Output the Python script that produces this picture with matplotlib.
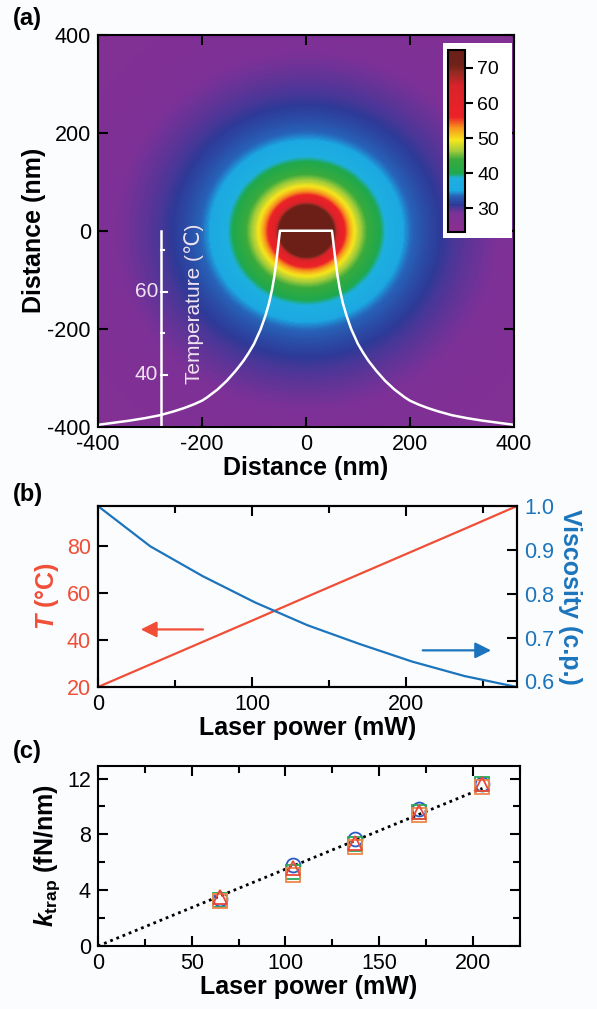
import numpy as np
import matplotlib
matplotlib.use("Agg")
import matplotlib.pyplot as plt
from matplotlib.colors import LinearSegmentedColormap
from matplotlib.patches import Rectangle
from matplotlib.ticker import MultipleLocator

plt.rcParams["font.family"] = ["Liberation Sans", "DejaVu Sans"]
plt.rcParams["axes.unicode_minus"] = False
plt.rcParams["mathtext.fontset"] = "custom"
plt.rcParams["mathtext.rm"] = "Liberation Sans:bold"
plt.rcParams["mathtext.it"] = "Liberation Sans:bold:italic"
plt.rcParams["mathtext.bf"] = "Liberation Sans:bold"

# (a) radial temperature profile (nm, degC)
radius = [0, 50, 52, 55, 58, 61, 65, 71, 78, 87, 100, 110, 120, 135, 152, 170,
          190, 200, 216, 235, 255, 281, 310, 340, 370, 400, 570]
temp_r = [74.6, 74.6, 72.5, 69.3, 66.2, 63.5, 60.6, 57.2, 54.2, 51.0, 47.4, 45.3,
          43.4, 41.0, 38.6, 36.5, 34.6, 33.8, 32.9, 32.0, 31.2, 30.3, 29.6, 29.0,
          28.5, 28.0, 26.3]
scale_ticks = [40, 50, 60, 70]
scale_labels = [40, 60]

# (b) temperature and viscosity vs laser power
power_b = [0, 34, 68, 102, 136, 170, 204, 238, 272]
temp_b = [20, 29.6, 39.2, 48.8, 58.5, 68.1, 77.7, 87.3, 97]
visc_b = [1.0, 0.908, 0.84, 0.78, 0.728, 0.685, 0.645, 0.612, 0.587]

# (c) trap stiffness vs laser power
power_c = [65, 104, 137, 171, 205]
k_circle = [3.4, 5.8, 7.7, 9.8, 11.6]
k_square = [3.3, 5.3, 7.3, 9.6, 11.6]
k_square2 = [3.2, 5.1, 7.1, 9.4, 11.4]
k_tri = [3.5, 5.6, 7.4, 9.6, 11.6]
fit_x = [0, 205]
fit_y = [0, 11.3]

bg = "#fbfcfe"
red = "#f04e37"
blue = "#1c75bc"
LS = 15.5   # tick label size
AL = 18     # axis label size

cmap = LinearSegmentedColormap.from_list("temp", [
    (0.00, "#8b2f8f"), (0.10, "#7d3197"), (0.149, "#2e3a98"), (0.197, "#2763b8"),
    (0.225, "#1ca9e2"), (0.293, "#1eb0e0"), (0.322, "#1fa84d"), (0.399, "#3aab3c"),
    (0.447, "#a7cd3a"), (0.505, "#f6e61c"), (0.572, "#f7941d"), (0.630, "#ec2227"),
    (0.803, "#d9232a"), (0.880, "#8f2a22"), (0.919, "#6e2218"), (1.00, "#6b1f17")])

fig = plt.figure(figsize=(5.97, 10.09), dpi=100, facecolor=bg)

def style(ax):
    ax.tick_params(which="both", direction="in", top=True, right=True, width=1.5,
                   labelsize=LS, pad=5)
    ax.tick_params(which="major", length=7)
    ax.tick_params(which="minor", length=5)
    for s in ax.spines.values():
        s.set_linewidth(1.5)

# ---- (a)
ax = fig.add_axes([0.164, 0.577, 0.697, 0.3885])
g = np.linspace(-400, 400, 401)
xx, yy = np.meshgrid(g, g)
field = np.interp(np.hypot(xx, yy), radius, temp_r)
im = ax.imshow(field, extent=[-400, 400, -400, 400], origin="lower", cmap=cmap,
               vmin=23.3, vmax=75.2, interpolation="bilinear", aspect="auto")
ax.set_xlim(-400, 400)
ax.set_ylim(-400, 400)
ax.set_xticks([-400, -200, 0, 200, 400])
ax.set_yticks([-400, -200, 0, 200, 400])
style(ax)
ax.set_xlabel("Distance (nm)", fontsize=AL, fontweight="bold", labelpad=1)
ax.set_ylabel("Distance (nm)", fontsize=AL, fontweight="bold", labelpad=1)

# white temperature curve on its own inner scale
def t2y(t):
    return -124 + (np.asarray(t) - 60) * 8.5

r = np.array(radius[:-1])
tr = np.array(temp_r[:-1])
cx = np.concatenate([-r[::-1], r])
cy = t2y(np.concatenate([tr[::-1], tr]))
ax.plot(cx, cy, color="white", lw=1.8, solid_joinstyle="round")
sx = -279
ax.plot([sx, sx], [0, -400], color="white", lw=1.8)
for t in scale_ticks:
    ln = 12 if t in scale_labels else 7
    ax.plot([sx, sx + ln], [t2y(t), t2y(t)], color="white", lw=1.5)
for t in scale_labels:
    ax.text(sx - 5, t2y(t), str(t), color="#efe2f0", fontsize=15, ha="right", va="center")
ax.text(-216, -150, "Temperature (℃)", color="#efe2f0", fontsize=15, rotation=90,
        ha="center", va="center")

ax.add_patch(Rectangle((0.829, 0.482), 0.166, 0.498, transform=ax.transAxes,
                       facecolor="white", edgecolor="none", zorder=3))
cax = ax.inset_axes([0.841, 0.497, 0.041, 0.465])
cb = fig.colorbar(im, cax=cax)
cb.set_ticks([30, 40, 50, 60, 70])
cb.outline.set_linewidth(1.5)
cax.tick_params(direction="out", length=6, width=1.5, labelsize=14, pad=3)
fig.text(0.022, 0.982, "(a)", fontsize=17, fontweight="bold", va="center")

# ---- (b)
axb = fig.add_axes([0.164, 0.3191, 0.702, 0.1794], facecolor=bg)
axb.plot(power_b, temp_b, color=red, lw=1.6)
axb.set_xlim(0, 272)
axb.set_ylim(20, 97)
axb.set_xticks([0, 100, 200])
axb.xaxis.set_minor_locator(MultipleLocator(50))
axb.set_yticks([20, 40, 60, 80])
style(axb)
axb.tick_params(axis="y", which="both", right=False, labelcolor=red)
axb.set_xlabel("Laser power (mW)", fontsize=AL, fontweight="bold", labelpad=1)
axb.set_ylabel("$T$ (°C)", fontsize=AL, fontweight="bold", color=red, labelpad=4)
axb.annotate("", xy=(26, 44.5), xytext=(70, 44.5),
             arrowprops=dict(arrowstyle="-|>", color=red, lw=1.6, mutation_scale=24))
axb.annotate("", xy=(257, 35.6), xytext=(209, 35.6),
             arrowprops=dict(arrowstyle="-|>", color=blue, lw=1.6, mutation_scale=24))
axr = axb.twinx()
axr.plot(power_b, visc_b, color=blue, lw=1.6)
axr.set_ylim(0.587, 1.0)
axr.set_yticks([0.6, 0.7, 0.8, 0.9, 1.0])
axr.tick_params(direction="in", length=7, width=1.5, labelsize=LS, labelcolor=blue, pad=5)
axr.set_ylabel("Viscosity (c.p.)", fontsize=AL, fontweight="bold", color=blue,
               rotation=270, labelpad=20)
for s in axr.spines.values():
    s.set_linewidth(1.5)
fig.text(0.022, 0.51, "(b)", fontsize=17, fontweight="bold", va="center")

# ---- (c)
axc = fig.add_axes([0.164, 0.0624, 0.707, 0.1784], facecolor=bg)
axc.plot(fit_x, fit_y, color="black", lw=2, ls=(0, (1, 1.4)))
mk = dict(ls="none", mfc="none", ms=10, mew=1.3)
axc.plot(power_c, k_circle, marker="o", mec="#2a5cc8", **mk)
axc.plot(power_c, k_square, marker="s", mec="#2aa85a", **mk)
axc.plot(power_c, k_square2, marker="s", mec="#f2874a", **mk)
axc.plot(power_c, k_tri, marker="^", mec="#e8493a", **mk)
axc.set_xlim(0, 225)
axc.set_ylim(0, 12.9)
axc.set_xticks([0, 50, 100, 150, 200])
axc.xaxis.set_minor_locator(MultipleLocator(25))
axc.set_yticks([0, 4, 8, 12])
axc.yaxis.set_minor_locator(MultipleLocator(2))
style(axc)
axc.set_xlabel("Laser power (mW)", fontsize=AL, fontweight="bold", labelpad=1)
axc.set_ylabel("$k_{\\mathrm{trap}}$ (fN/nm)", fontsize=AL, fontweight="bold", labelpad=4)
fig.text(0.022, 0.255, "(c)", fontsize=17, fontweight="bold", va="center")

fig.savefig("out.png", dpi=100, facecolor=bg)
